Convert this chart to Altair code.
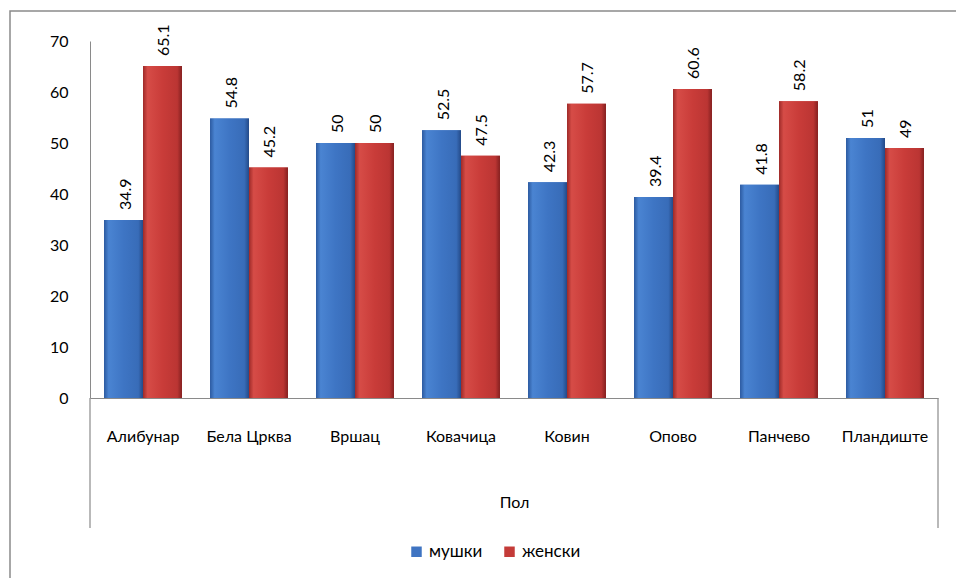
import altair as alt
import pandas as pd

categories = ["Алибунар", "Бела Црква", "Вршац", "Ковачица", "Ковин", "Опово", "Панчево", "Пландиште"]
series = ["мушки", "женски"]
male = [34.9, 54.8, 50, 52.5, 42.3, 39.4, 41.8, 51]
female = [65.1, 45.2, 50, 47.5, 57.7, 60.6, 58.2, 49]
y_ticks = [0, 10, 20, 30, 40, 50, 60, 70]
axis_title = "Пол"

rows = []
for c, m, f in zip(categories, male, female):
    rows.append({"cat": c, "series": series[0], "value": m, "label": f"{m:g}"})
    rows.append({"cat": c, "series": series[1], "value": f, "label": f"{f:g}"})
df = pd.DataFrame(rows)

W, H = 848, 357
FONT = "Lato"
GRAY = "#8a8a8a"

x_enc = alt.X("cat:N", sort=categories,
              scale=alt.Scale(paddingInner=0.265, paddingOuter=0.1325),
              axis=alt.Axis(title=axis_title, labelAngle=0, ticks=False, labelPadding=30,
                            titlePadding=50, labelFontSize=16, titleFontSize=16,
                            titleFontWeight="normal", domainColor=GRAY, labelColor="#000",
                            titleColor="#000", labelFont=FONT, titleFont=FONT, labelLimit=200))
xo_enc = alt.XOffset("series:N", scale=alt.Scale(domain=series, paddingInner=0, paddingOuter=0))
y_enc = alt.Y("value:Q", scale=alt.Scale(domain=[0, 70], nice=False),
              axis=alt.Axis(title=None, values=y_ticks, ticks=False, grid=False, labelPadding=22,
                            labelFontSize=16, labelFont=FONT, labelColor="#000", domainColor=GRAY))

base = alt.Chart(df)

bars = base.mark_bar().encode(
    x=x_enc, xOffset=xo_enc, y=y_enc,
    color=alt.Color("series:N", scale=alt.Scale(domain=series, range=["#3f74c2", "#c43b38"]),
                    legend=alt.Legend(title=None, orient="none", legendX=318, legendY=502,
                                      direction="horizontal", symbolType="square", symbolSize=110,
                                      labelFontSize=17, labelFont=FONT, labelColor="#000",
                                      columnPadding=18, labelOffset=4, symbolStrokeWidth=0))
)

def grad(stops):
    return alt.Gradient(gradient="linear", x1=0, x2=1, y1=0, y2=0,
                        stops=[alt.GradientStop(offset=o, color=c) for o, c in stops])

blue_grad = grad([(0, "#2c5aa0"), (0.12, "#4a84d2"), (0.5, "#3e75c4"), (0.88, "#386cb8"), (1, "#244a88")])
red_grad = grad([(0, "#9e2a28"), (0.12, "#d64c47"), (0.5, "#c93c39"), (0.88, "#bb3533"), (1, "#842020")])

over_m = base.transform_filter(alt.datum.series == series[0]).mark_bar(color=blue_grad).encode(
    x=x_enc, xOffset=xo_enc, y=y_enc)
over_f = base.transform_filter(alt.datum.series == series[1]).mark_bar(color=red_grad).encode(
    x=x_enc, xOffset=xo_enc, y=y_enc)

labels = base.mark_text(angle=270, align="left", baseline="middle", dx=10, dy=2,
                        fontSize=16, font=FONT, color="#000").encode(
    x=x_enc, xOffset=xo_enc, y=y_enc, text="label:N")

deco = alt.Chart(alt.Data(values=[{"a": 1}]))
border = deco.mark_rect(fillOpacity=0, stroke=GRAY, strokeWidth=1.5).encode(
    x=alt.value(-80), x2=alt.value(900), y=alt.value(-30), y2=alt.value(600))
left_rule = deco.mark_rule(color=GRAY, strokeWidth=1.2).encode(
    x=alt.value(0), y=alt.value(H), y2=alt.value(487))
right_rule = deco.mark_rule(color=GRAY, strokeWidth=1.2).encode(
    x=alt.value(W), y=alt.value(H), y2=alt.value(487))

chart = alt.layer(border, left_rule, right_rule, bars, over_m, over_f, labels).properties(
    width=W, height=H,
    autosize=alt.AutoSizeParams(type="none"),
    padding={"left": 90, "top": 41, "right": 18, "bottom": 180},
    background="white",
).configure_view(stroke=None)

chart.save("out.html", embed_options={"renderer": "svg", "actions": False})
